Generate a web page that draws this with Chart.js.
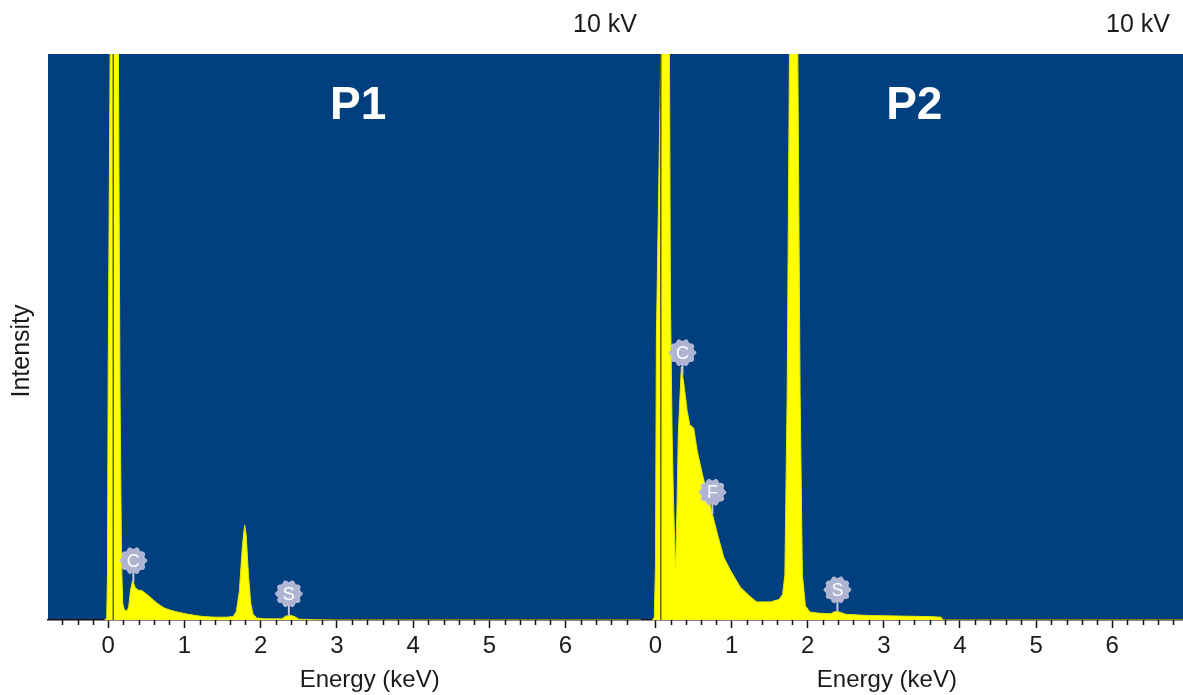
<!DOCTYPE html>
<html>
<head>
<meta charset="utf-8">
<title>EDS spectra P1 / P2</title>
<script src="https://cdn.jsdelivr.net/npm/chart.js@4.4.0/dist/chart.umd.min.js"></script>
<style>
  html, body { margin: 0; padding: 0; background: #fff; }
  #wrap { position: relative; width: 1183px; height: 695px; overflow: hidden; }
  canvas { position: absolute; top: 0; }
  #chartP1 { left: 0; }
  #chartP2 { left: 641px; }
</style>
</head>
<body>
<div id="wrap">
  <canvas id="chartP1" width="641" height="695"></canvas>
  <canvas id="chartP2" width="542" height="695"></canvas>
</div>
<script>
// Spectrum P1 (energy in keV, intensity in % of plot height)
const p1Energy = [-0.05, -0.02, -0.01, 0.0, 0.03, 0.07, 0.13, 0.155, 0.175, 0.19, 0.21, 0.25, 0.27, 0.29, 0.32,
  0.35, 0.39, 0.44, 0.48, 0.53, 0.58, 0.63, 0.68, 0.74, 0.8, 0.88, 0.95, 1.05, 1.15, 1.25, 1.4, 1.55, 1.64,
  1.68, 1.72, 1.76, 1.79, 1.81, 1.84, 1.87, 1.9, 1.95, 2.05, 2.28, 2.33, 2.4, 2.46, 2.5, 2.7, 3.0, 7.0];
const p1Counts = [0, 0.3, 8, 45, 110, 320, 110, 40, 10, 3, 1.8, 1.6, 2.5, 5, 7.0,
  5.8, 5.3, 5.2, 4.8, 4.3, 3.7, 3.1, 2.6, 2.1, 1.8, 1.5, 1.3, 1.0, 0.8, 0.6, 0.5, 0.5, 0.6,
  1.5, 5, 13, 16.8, 15, 8, 3, 1, 0.35, 0.2, 0.2, 0.7, 0.8, 0.5, 0.15, 0.05, 0, 0];

// Spectrum P2
const p2Energy = [-0.04, -0.015, 0.0, 0.012, 0.07, 0.12, 0.184, 0.197, 0.219, 0.237, 0.262, 0.27, 0.284, 0.30,
  0.34, 0.372, 0.416, 0.45, 0.503, 0.547, 0.612, 0.678, 0.744, 0.81, 0.897, 0.984, 1.115, 1.247, 1.33, 1.51,
  1.62, 1.67, 1.7, 1.73, 1.76, 1.81, 1.87, 1.9, 1.93, 1.97, 2.03, 2.15, 2.3, 2.36, 2.42, 2.5, 2.8, 3.2, 3.6,
  3.75, 3.78, 6.93];
const p2Counts = [0, 0.5, 10, 50, 100, 260, 100, 56, 33, 21, 9.4, 12, 21, 33,
  44.7, 41.8, 37, 34.5, 33.9, 30, 26, 22.4, 18.9, 15.4, 11.1, 8.8, 5.8, 4.1, 3.2, 3.2,
  3.6, 4.5, 8, 40, 100, 250, 100, 40, 8, 2.5, 1.4, 1.2, 1.1, 1.5, 1.4, 1.0, 0.8, 0.7, 0.6,
  0.5, 0, 0];

// Element markers
const p1Elements = ['C', 'S'];
const p1ElementEnergy = [0.33, 2.37];
const p2Elements = ['C', 'F', 'S'];
const p2ElementEnergy = [0.355, 0.748, 2.39];

// Thin dark line inside the zero-energy peak
const p1ZeroLine = [0.066];
const p2ZeroLine = [0.07];

// Axis
const tickLabels = ['0', '1', '2', '3', '4', '5', '6'];
const xTitle = 'Energy (keV)';
const yTitle = 'Intensity';
const voltageLabel = '10 kV';

const PLOT_BLUE = '#013f7e';
const SPECTRUM_YELLOW = '#ffff00';
const FONT = '"Liberation Sans", Arial, sans-serif';

// linear interpolation of spectrum at a given energy
function valueAt(energies, counts, e) {
  for (let i = 1; i < energies.length; i++) {
    if (e <= energies[i]) {
      const t = (e - energies[i - 1]) / (energies[i] - energies[i - 1]);
      return counts[i - 1] + t * (counts[i] - counts[i - 1]);
    }
  }
  return counts[counts.length - 1];
}

function drawBadge(ctx, cx, cy, letter) {
  ctx.beginPath();
  for (let i = 0; i <= 80; i++) {
    const a = (i / 80) * Math.PI * 2;
    const r = 12.3 + 1.1 * Math.cos(a * 10);
    const px = cx + r * Math.cos(a), py = cy + r * Math.sin(a);
    if (i === 0) ctx.moveTo(px, py); else ctx.lineTo(px, py);
  }
  ctx.closePath();
  ctx.fillStyle = '#b0b4d3';
  ctx.fill();
  ctx.strokeStyle = '#c6c9e0';
  ctx.lineWidth = 1;
  ctx.stroke();
  ctx.fillStyle = '#ffffff';
  ctx.font = '18px ' + FONT;
  ctx.textAlign = 'center';
  ctx.textBaseline = 'middle';
  ctx.fillText(letter, cx, cy + 1);
}

const spectrumDecor = {
  id: 'spectrumDecor',
  beforeDraw(chart, args, opts) {
    const { ctx, chartArea: a } = chart;
    ctx.save();
    ctx.fillStyle = PLOT_BLUE;
    ctx.fillRect(a.left, a.top, a.right - a.left, a.bottom - a.top);
    ctx.restore();
  },
  afterDraw(chart, args, opts) {
    const { ctx, chartArea: a, scales: { x, y } } = chart;
    ctx.save();

    // minor ticks every 0.2 keV
    ctx.strokeStyle = '#111';
    ctx.lineWidth = 1.5;
    for (let k = Math.ceil(x.min / 0.2); k <= Math.floor(x.max / 0.2); k++) {
      if (k % 5 === 0) continue;
      const px = Math.round(x.getPixelForValue(k * 0.2)) + 0.5;
      ctx.beginPath();
      ctx.moveTo(px, a.bottom);
      ctx.lineTo(px, a.bottom + 5);
      ctx.stroke();
    }

    // element badges with stalk down to the spectrum
    ctx.save();
    ctx.beginPath();
    ctx.rect(a.left, a.top, a.right - a.left, a.bottom - a.top);
    ctx.clip();
    opts.elements.forEach((el, i) => {
      const e = opts.elementEnergy[i];
      const px = x.getPixelForValue(e);
      const tip = y.getPixelForValue(valueAt(opts.energy, opts.counts, e));
      const cy = tip - 22;
      ctx.strokeStyle = '#c3c7de';
      ctx.lineWidth = 2;
      ctx.beginPath();
      ctx.moveTo(px, cy + 10);
      ctx.lineTo(px, tip);
      ctx.stroke();
      drawBadge(ctx, px, cy, el);
    });
    ctx.restore();

    // panel label (P1 / P2)
    ctx.fillStyle = '#ffffff';
    ctx.font = 'bold 46px ' + FONT;
    ctx.textAlign = 'center';
    ctx.textBaseline = 'middle';
    ctx.fillText(opts.panel, x.getPixelForValue(opts.panelAt), 106);

    // accelerating voltage
    ctx.fillStyle = '#1a1a1a';
    ctx.font = '25px ' + FONT;
    ctx.textAlign = 'right';
    ctx.fillText(voltageLabel, a.right - opts.kvInset, 25);

    // x axis title
    ctx.font = '24px ' + FONT;
    ctx.textAlign = 'center';
    ctx.fillText(xTitle, x.getPixelForValue(opts.titleAt), 680);

    // y axis title
    if (opts.showYTitle) {
      ctx.translate(22, 351);
      ctx.rotate(-Math.PI / 2);
      ctx.font = '25px ' + FONT;
      ctx.fillText(yTitle, 0, 0);
    }
    ctx.restore();
  }
};

function buildChart(canvasId, cfg) {
  const points = cfg.energy.map((e, i) => ({ x: e, y: cfg.counts[i] }));
  const zero = [{ x: cfg.zeroLine[0], y: 0 }, { x: cfg.zeroLine[0], y: 100 }];
  return new Chart(document.getElementById(canvasId), {
    type: 'scatter',
    data: {
      datasets: [
        {
          label: cfg.panel,
          data: points,
          order: 2,
          showLine: true,
          fill: 'origin',
          backgroundColor: SPECTRUM_YELLOW,
          borderColor: '#e8e800',
          borderWidth: 1,
          pointRadius: 0,
          tension: 0
        },
        {
          label: 'zero',
          data: zero,
          order: 1,
          showLine: true,
          fill: false,
          borderColor: 'rgba(60, 60, 0, 0.8)',
          borderWidth: 1.5,
          pointRadius: 0
        }
      ]
    },
    options: {
      responsive: false,
      animation: false,
      events: [],
      layout: { padding: { top: 54, left: cfg.padLeft, right: 0, bottom: 0 } },
      plugins: {
        legend: { display: false },
        tooltip: { enabled: false },
        spectrumDecor: {
          panel: cfg.panel,
          panelAt: cfg.panelAt,
          titleAt: cfg.titleAt,
          kvInset: cfg.kvInset,
          showYTitle: cfg.showYTitle,
          energy: cfg.energy,
          counts: cfg.counts,
          elements: cfg.elements,
          elementEnergy: cfg.elementEnergy
        }
      },
      scales: {
        x: {
          type: 'linear',
          min: cfg.xMin,
          max: cfg.xMax,
          afterFit: s => { s.height = 75; },
          border: { display: true, color: '#111', width: 1.5 },
          grid: { display: true, drawOnChartArea: false, drawTicks: true, tickLength: 8, tickColor: '#111', tickWidth: 1.5 },
          ticks: {
            stepSize: 1,
            includeBounds: false,
            autoSkip: false,
            maxRotation: 0,
            padding: 4,
            color: '#1a1a1a',
            font: { size: 24, family: FONT },
            callback: v => (Number.isInteger(v) && tickLabels[v] !== undefined ? tickLabels[v] : '')
          }
        },
        y: { display: false, min: 0, max: 100 }
      }
    },
    plugins: [spectrumDecor]
  });
}

buildChart('chartP1', {
  panel: 'P1', energy: p1Energy, counts: p1Counts, elements: p1Elements, elementEnergy: p1ElementEnergy,
  zeroLine: p1ZeroLine, xMin: -0.79, xMax: 6.99, padLeft: 48, panelAt: 3.28, titleAt: 3.43, kvInset: 4, showYTitle: true
});
buildChart('chartP2', {
  panel: 'P2', energy: p2Energy, counts: p2Counts, elements: p2Elements, elementEnergy: p2ElementEnergy,
  zeroLine: p2ZeroLine, xMin: -0.19, xMax: 6.93, padLeft: 0, panelAt: 3.40, titleAt: 3.04, kvInset: 13, showYTitle: false
});
</script>
</body>
</html>
